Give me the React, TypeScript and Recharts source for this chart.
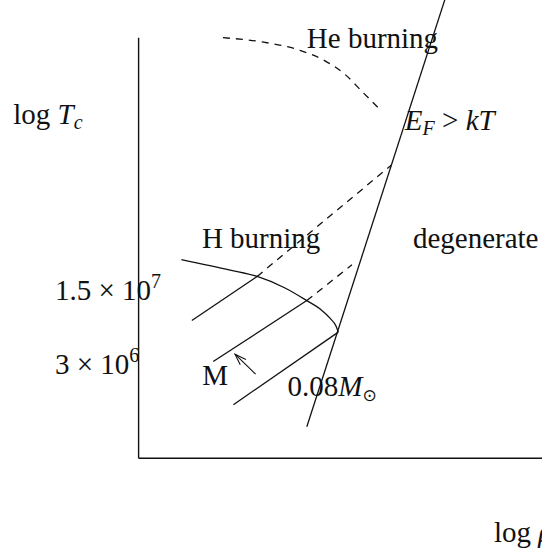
import React from "react";
import {
  LineChart,
  Line,
  XAxis,
  YAxis,
  ReferenceLine,
  ReferenceDot,
} from "recharts";

// Schematic log rho - log Tc plane for contracting stellar cores.
// x: log rho in arbitrary units across the frame, y: log Tc in dex.

// helium ignition curve (dashed)
const heBurnX = [2.09, 3.06, 4.0, 4.62, 5.12, 5.56, 5.95];
const heBurnY = [9.6, 9.56, 9.48, 9.38, 9.25, 9.08, 8.93];

// hydrogen ignition curve
const hBurnX = [1.06, 2.27, 2.94, 3.63, 4.17, 4.5, 4.75, 4.89, 4.95];
const hBurnY = [7.49, 7.39, 7.33, 7.22, 7.1, 7.02, 6.93, 6.86, 6.8];

// degeneracy boundary E_F = kT
const degenX = [4.17, 7.59];
const degenY = [5.9, 9.96];

// contraction tracks: solid part up to H ignition, dashed beyond
const track1SolidX = [1.32, 2.94];
const track1SolidY = [6.91, 7.33];
const track1DashX = [2.94, 6.27];
const track1DashY = [7.33, 8.39];
const track2SolidX = [1.85, 4.17];
const track2SolidY = [6.52, 7.1];
const track2DashX = [4.17, 5.29];
const track2DashY = [7.1, 7.44];
const track3X = [2.35, 4.95];
const track3Y = [6.11, 6.8];

// arrow for increasing mass
const arrowShaftX = [2.9, 2.39];
const arrowShaftY = [6.4, 6.59];
const arrowHeadX = [2.52, 2.39, 2.66];
const arrowHeadY = [6.49, 6.59, 6.54];

// temperature ticks
const tickTemps = [3e6, 1.5e7];
const tickMantissa = ["3", "1.5"];
const tickExponent = ["6", "7"];
const tickValues = tickTemps.map((t) => Math.log10(t));

// label anchors (data coords)
const labelX = [4.17, 1.57, 6.8, 6.6, 1.58, 3.69];
const labelY = [9.5, 7.6, 7.6, 8.72, 6.3, 6.19];

const pts = (xs: number[], ys: number[]) =>
  xs.map((x, i) => ({ x, y: ys[i] }));

const serif = '"Liberation Serif", "DejaVu Serif", serif';
const ink = "#111";
const FS = 29;
const SUB = 20;
const DASH = "7 6";

const textStyle: React.CSSProperties = { whiteSpace: "pre" };

function Plain({ cx, cy, text }: { cx?: number; cy?: number; text: string }) {
  return (
    <text x={cx} y={cy} fontFamily={serif} fontSize={FS} fill={ink} style={textStyle}>
      {text}
    </text>
  );
}

function Fermi({ cx, cy }: { cx?: number; cy?: number }) {
  return (
    <text x={cx} y={cy} fontFamily={serif} fontSize={FS} fill={ink} style={textStyle}>
      <tspan fontStyle="italic">E</tspan>
      <tspan fontStyle="italic" fontSize={SUB} dy={5}>F</tspan>
      <tspan dy={-5}>{" > "}</tspan>
      <tspan fontStyle="italic">kT</tspan>
    </text>
  );
}

function MinMass({ cx, cy }: { cx?: number; cy?: number }) {
  return (
    <text x={cx} y={cy} fontFamily={serif} fontSize={FS} fill={ink} style={textStyle}>
      0.08
      <tspan fontStyle="italic">M</tspan>
      <tspan fontFamily='"DejaVu Sans", sans-serif' fontSize={17} dy={5}>
        ⊙
      </tspan>
    </text>
  );
}

function TempTick(props: any) {
  const { x, y, payload } = props;
  const i = tickValues.indexOf(payload.value);
  if (i < 0) return null;
  return (
    <text
      x={x - 83.6}
      y={y + 7.5}
      fontFamily={serif}
      fontSize={FS}
      fill={ink}
      textAnchor="start"
      style={textStyle}
    >
      {tickMantissa[i] + " × 10"}
      <tspan fontSize={SUB} dy={-12}>
        {tickExponent[i]}
      </tspan>
    </text>
  );
}

function RhoTitle(p: any) {
  const vb = p.viewBox;
  return (
    <text
      x={vb.x + vb.width - 48}
      y={vb.y + 83.4}
      fontFamily={serif}
      fontSize={FS}
      fill={ink}
      style={textStyle}
    >
      {"log "}
      <tspan fontStyle="italic">ρ</tspan>
    </text>
  );
}

function TempTitle(p: any) {
  const vb = p.viewBox;
  return (
    <text
      x={vb.x + vb.width - 125.3}
      y={vb.y + 86}
      fontFamily={serif}
      fontSize={FS}
      fill={ink}
      style={textStyle}
    >
      {"log "}
      <tspan fontStyle="italic">T</tspan>
      <tspan fontStyle="italic" fontSize={SUB} dy={5}>
        c
      </tspan>
    </text>
  );
}

const lineProps = {
  dataKey: "y",
  stroke: ink,
  strokeWidth: 1.3,
  dot: false,
  activeDot: false,
  isAnimationActive: false,
  type: "linear" as const,
};

export default function App() {
  return (
    <div style={{ position: "absolute", left: 0, top: 0, background: "#fff" }}>
      <LineChart
        width={542}
        height={550}
        margin={{ top: 37.7, right: 0, bottom: 90.7, left: 137.6 }}
      >
        <XAxis
          type="number"
          dataKey="x"
          domain={[0, 10]}
          height={1}
          tick={false}
          tickLine={false}
          axisLine={{ stroke: ink, strokeWidth: 1.4 }}
          label={{ content: RhoTitle }}
        />
        <YAxis
          type="number"
          dataKey="y"
          domain={[5.6, 9.6]}
          width={1}
          ticks={tickValues}
          interval={0}
          tickLine={false}
          tickSize={0}
          tickMargin={0}
          tick={TempTick}
          axisLine={{ stroke: ink, strokeWidth: 1.4 }}
          label={{ content: TempTitle }}
        />

        <ReferenceLine
          segment={[
            { x: degenX[0], y: degenY[0] },
            { x: degenX[1], y: degenY[1] },
          ]}
          stroke={ink}
          strokeWidth={1.3}
          ifOverflow="visible"
        />

        <Line {...lineProps} data={pts(heBurnX, heBurnY)} type="monotone" strokeDasharray={DASH} />
        <Line {...lineProps} data={pts(hBurnX, hBurnY)} type="monotone" />
        <Line {...lineProps} data={pts(track1SolidX, track1SolidY)} />
        <Line {...lineProps} data={pts(track1DashX, track1DashY)} strokeDasharray={DASH} />
        <Line {...lineProps} data={pts(track2SolidX, track2SolidY)} />
        <Line {...lineProps} data={pts(track2DashX, track2DashY)} strokeDasharray={DASH} />
        <Line {...lineProps} data={pts(track3X, track3Y)} />
        <Line {...lineProps} data={pts(arrowShaftX, arrowShaftY)} strokeWidth={1.1} />
        <Line {...lineProps} data={pts(arrowHeadX, arrowHeadY)} strokeWidth={1.1} />

        <ReferenceDot x={labelX[0]} y={labelY[0]} r={0} ifOverflow="visible"
          shape={(p: any) => <Plain cx={p.cx} cy={p.cy} text="He burning" />} />
        <ReferenceDot x={labelX[1]} y={labelY[1]} r={0} ifOverflow="visible"
          shape={(p: any) => <Plain cx={p.cx} cy={p.cy} text="H burning" />} />
        <ReferenceDot x={labelX[2]} y={labelY[2]} r={0} ifOverflow="visible"
          shape={(p: any) => <Plain cx={p.cx} cy={p.cy} text="degenerate" />} />
        <ReferenceDot x={labelX[3]} y={labelY[3]} r={0} ifOverflow="visible"
          shape={(p: any) => <Fermi cx={p.cx} cy={p.cy} />} />
        <ReferenceDot x={labelX[4]} y={labelY[4]} r={0} ifOverflow="visible"
          shape={(p: any) => <Plain cx={p.cx} cy={p.cy} text="M" />} />
        <ReferenceDot x={labelX[5]} y={labelY[5]} r={0} ifOverflow="visible"
          shape={(p: any) => <MinMass cx={p.cx} cy={p.cy} />} />
      </LineChart>
    </div>
  );
}
